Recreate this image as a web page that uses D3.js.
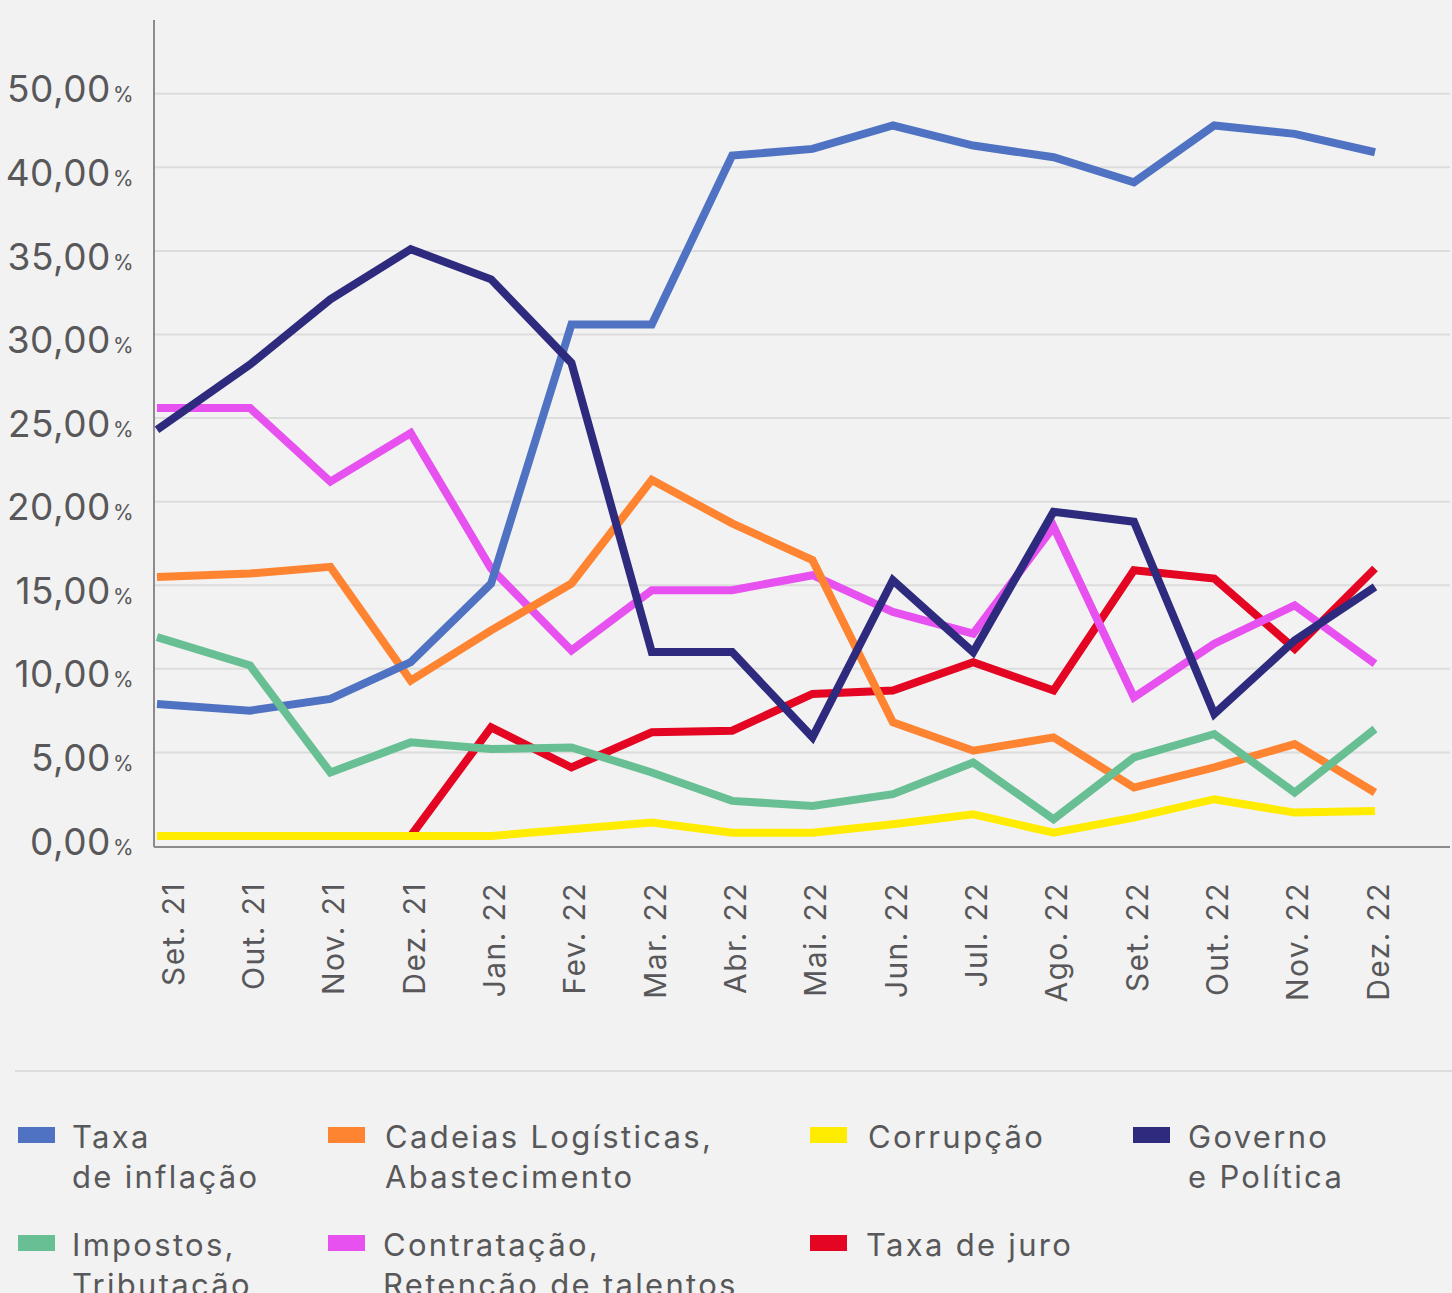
<!DOCTYPE html>
<html>
<head>
<meta charset="utf-8">
<script src="https://cdn.jsdelivr.net/npm/d3@7"></script>
<style>
  html, body { margin: 0; padding: 0; background: #f2f2f2; }
  svg { display: block; }
  text { font-family: Inter, "Noto Sans", sans-serif; fill: #58585a; }
</style>
</head>
<body>
<svg id="chart" width="1452" height="1293"></svg>
<script>
// ---- data ----
const months = ["Set. 21","Out. 21","Nov. 21","Dez. 21","Jan. 22","Fev. 22","Mar. 22","Abr. 22","Mai. 22","Jun. 22","Jul. 22","Ago. 22","Set. 22","Out. 22","Nov. 22","Dez. 22"];

const taxaInflacao   = [7.9, 7.5, 8.2, 10.4, 15.1, 30.6, 30.6, 40.7, 41.1, 42.5, 41.3, 40.6, 39.1, 42.5, 42.0, 40.9];
const cadeiasLogisticas = [15.5, 15.7, 16.1, 9.3, 12.3, 15.1, 21.3, 18.7, 16.5, 6.8, 5.1, 5.9, 2.9, 4.1, 5.5, 2.6];
const corrupcao      = [0.0, 0.0, 0.0, 0.0, 0.0, 0.4, 0.8, 0.2, 0.2, 0.7, 1.3, 0.2, 1.1, 2.2, 1.4, 1.5];
const governoPolitica = [24.3, 28.2, 32.1, 35.1, 33.3, 28.3, 11.0, 11.0, 5.9, 15.3, 11.0, 19.4, 18.8, 7.3, 11.7, 14.9];
const impostos       = [11.9, 10.2, 3.8, 5.6, 5.2, 5.3, 3.8, 2.1, 1.8, 2.5, 4.4, 1.0, 4.7, 6.1, 2.6, 6.4];
const contratacao    = [25.6, 25.6, 21.2, 24.1, 16.0, 11.1, 14.7, 14.7, 15.6, 13.4, 12.1, 18.5, 8.3, 11.5, 13.8, 10.3];
const taxaJuro       = [null, null, null, 0.0, 6.5, 4.1, 6.2, 6.3, 8.5, 8.7, 10.4, 8.7, 15.9, 15.4, 11.2, 16.0];

const yTickValues = [0, 5, 10, 15, 20, 25, 30, 35, 40, 45];
const yTickLabels = ["0,00", "5,00", "10,00", "15,00", "20,00", "25,00", "30,00", "35,00", "40,00", "50,00"];
const gridValues  = [5, 10, 15, 20, 25, 30, 35, 40, 44.4];

const legendNames = [
  ["Taxa", "de inflação"],
  ["Cadeias Logísticas,", "Abastecimento"],
  ["Corrupção"],
  ["Governo", "e Política"],
  ["Impostos,", "Tributação"],
  ["Contratação,", "Retenção de talentos"],
  ["Taxa de juro"]
];

// ---- styles ----
const seriesValues = [taxaInflacao, cadeiasLogisticas, corrupcao, governoPolitica, impostos, contratacao, taxaJuro];
const colors = ["#4f73c2", "#ff8431", "#ffec00", "#2e2a7e", "#69bf94", "#e651ef", "#e30521"];
const drawOrder = [6, 5, 2, 1, 0, 4, 3];

const svg = d3.select("#chart");

// scales
const x = d3.scaleLinear().domain([0, 1, months.length - 1]).range([157, 250, 1375]);
const xLabel = d3.scalePoint().domain(months).range([172, 1377]);
const y = d3.scaleLinear().domain([0, 40]).range([836, 167.3]);

const plotLeft = 154, plotRight = 1450, plotTop = 20, plotBottom = 847;

// gridlines
svg.append("g").selectAll("line").data(gridValues).join("line")
  .attr("x1", plotLeft + 1).attr("x2", plotRight)
  .attr("y1", d => y(d)).attr("y2", d => y(d))
  .attr("stroke", "#dcdcdc").attr("stroke-width", 2);

// y axis (labels only via d3 axis)
const yAxis = d3.axisLeft(y).tickValues(yTickValues).tickSize(0).tickFormat("");
const yg = svg.append("g").attr("transform", `translate(${plotLeft},0)`).call(yAxis);
yg.select(".domain").remove();
yg.selectAll(".tick").each(function(d, i) {
  const t = d3.select(this).append("text")
    .attr("x", -20).attr("dy", "0.49em")
    .attr("text-anchor", "end")
    .style("font-size", "37px")
    .style("letter-spacing", "0.5px")
    .style("fill", "#58585a");
  t.append("tspan").text(yTickLabels[i]);
  t.append("tspan").style("font-size", "21px").attr("dx", 2).text("%");
});

// axis lines
svg.append("line").attr("x1", plotLeft).attr("x2", plotLeft).attr("y1", plotTop).attr("y2", plotBottom)
  .attr("stroke", "#8c8c8c").attr("stroke-width", 2);
svg.append("line").attr("x1", plotLeft).attr("x2", plotRight).attr("y1", plotBottom).attr("y2", plotBottom)
  .attr("stroke", "#8c8c8c").attr("stroke-width", 2);

// x axis labels
const xAxis = d3.axisBottom(xLabel).tickSize(0).tickFormat("");
const xg = svg.append("g").attr("transform", `translate(0,${plotBottom})`).call(xAxis);
xg.select(".domain").remove();
xg.selectAll(".tick").append("text")
  .attr("transform", "translate(11,35) rotate(-90)")
  .attr("text-anchor", "end")
  .style("font-size", "30px")
  .style("letter-spacing", "1.4px")
  .style("fill", "#58585a")
  .text(d => d);

// lines
const line = d3.line()
  .defined(d => d != null)
  .x((d, i) => x(i))
  .y(d => y(d));

const linesG = svg.append("g");
drawOrder.forEach(k => {
  linesG.append("path")
    .datum(seriesValues[k])
    .attr("fill", "none")
    .attr("stroke", colors[k])
    .attr("stroke-width", 8)
    .attr("stroke-linejoin", "miter")
    .attr("stroke-linecap", "butt")
    .attr("d", line);
});

// separator
svg.append("line").attr("x1", 15).attr("x2", 1452).attr("y1", 1071).attr("y2", 1071)
  .attr("stroke", "#dcdcdc").attr("stroke-width", 2);

// legend
const legendPos = [
  {sx: 18, tx: 72, row: 0}, {sx: 328, tx: 385, row: 0}, {sx: 810, tx: 868, row: 0}, {sx: 1133, tx: 1188, row: 0},
  {sx: 18, tx: 72, row: 1}, {sx: 328, tx: 383, row: 1}, {sx: 810, tx: 866, row: 1}
];
const rowSwatchY = [1127, 1235];
const rowBaseY = [1148, 1256];

const lg = svg.append("g");
legendNames.forEach((names, k) => {
  const p = legendPos[k];
  lg.append("rect").attr("x", p.sx).attr("y", rowSwatchY[p.row]).attr("width", 37).attr("height", 16)
    .attr("fill", colors[k]);
  const t = lg.append("text").attr("x", p.tx).attr("y", rowBaseY[p.row])
    .style("font-size", "31px").style("letter-spacing", "2.3px");
  names.forEach((n, j) => {
    t.append("tspan").attr("x", p.tx).attr("dy", j === 0 ? 0 : 40).text(n);
  });
});
</script>
</body>
</html>
